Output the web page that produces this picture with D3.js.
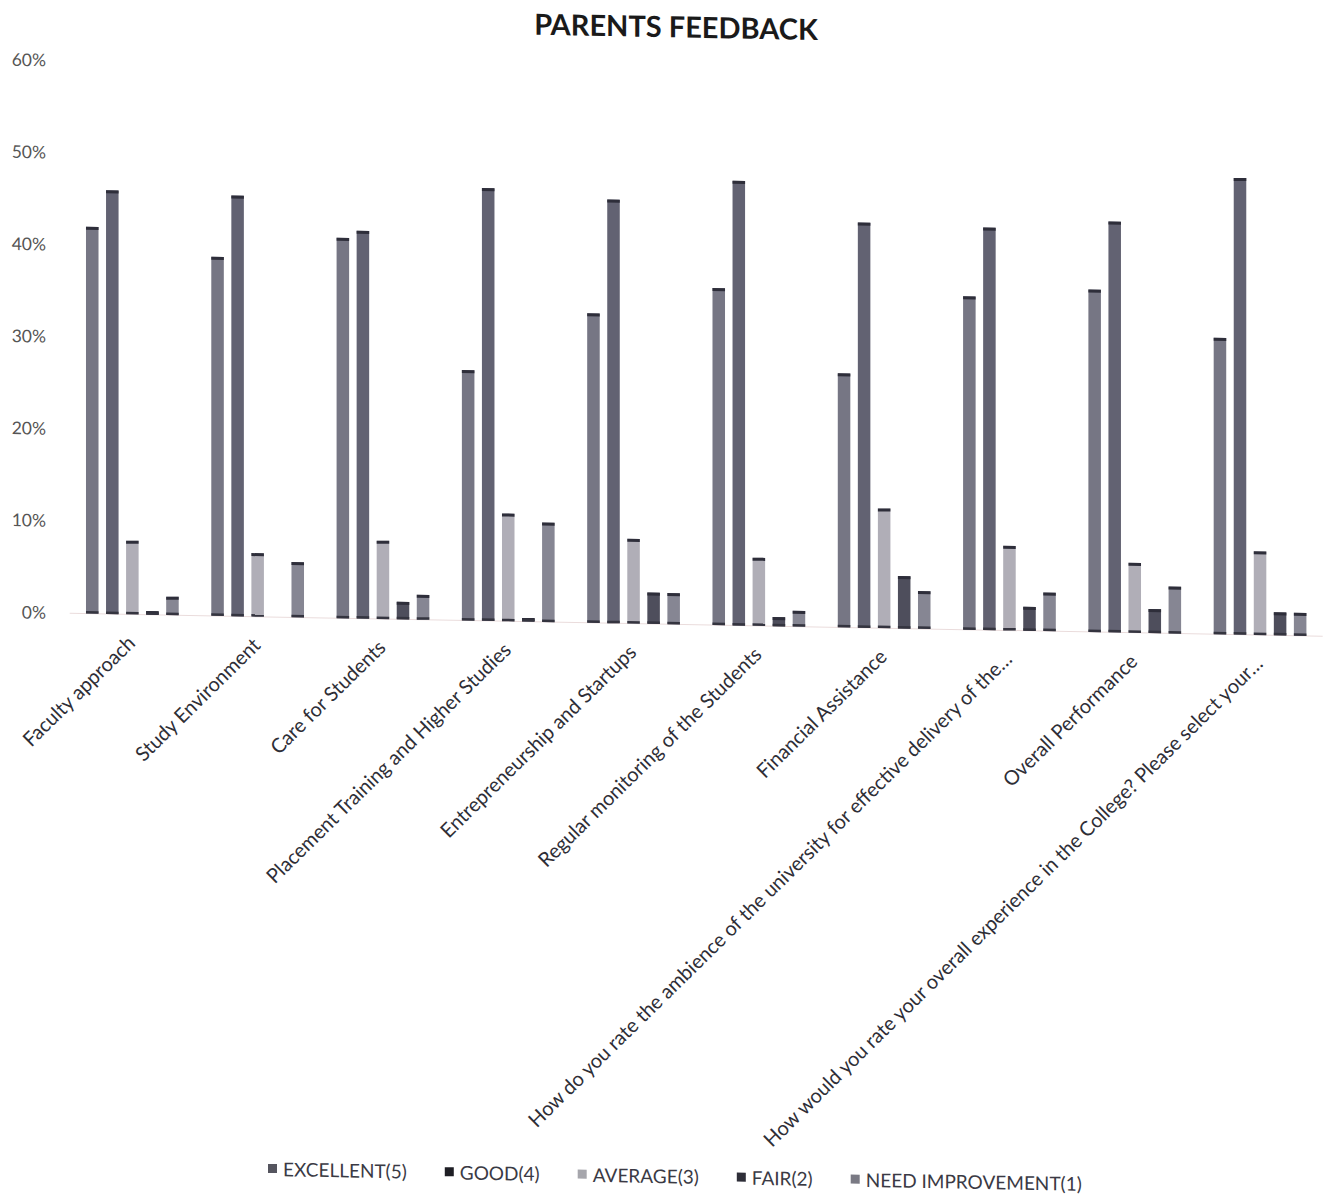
<!DOCTYPE html>
<html lang="en">
<head>
  <meta charset="UTF-8" />
  <title>Parents Feedback</title>
  <script src="https://d3js.org/d3.v7.min.js"></script>
  <style>
    body {
      margin: 0;
      background: #fff;
      font-family: Lato, "Open Sans", sans-serif;
    }
    .tick-label {
      font-size: 17.5px;
      fill: #555;
    }
    .cat-label {
      font-size: 20px;
      fill: #2e2e36;
    }
    .legend text {
      font-size: 19px;
      fill: #3a3a44;
    }
  </style>
</head>
<body>
  <div id="chart"></div>
  <script>
    const categories = [
      "Faculty approach",
      "Study Environment",
      "Care for Students",
      "Placement Training and Higher Studies",
      "Entrepreneurship and Startups",
      "Regular monitoring of the Students",
      "Financial Assistance",
      "How do you rate the ambience of the university for effective delivery of the…",
      "Overall Performance",
      "How would you rate your overall experience in the College? Please select your…"
    ];
    const seriesNames = ["EXCELLENT(5)", "GOOD(4)", "AVERAGE(3)", "FAIR(2)", "NEED IMPROVEMENT(1)"];
    const excellent = [42, 39, 41.3, 27.2, 33.6, 36.6, 27.6, 36.2, 37.2, 32.2];
    const good = [46, 45.7, 42.1, 47, 46, 48.3, 44, 43.7, 44.6, 49.6];
    const average = [8, 6.9, 8.5, 11.7, 9.2, 7.4, 13, 9.2, 7.6, 9.1];
    const fair = [0.4, 0, 1.9, 0.4, 3.4, 1, 5.7, 2.6, 2.6, 2.5];
    const needImprovement = [2, 6, 2.7, 10.8, 3.4, 1.7, 4.1, 4.2, 5.1, 2.5];
    const yTicks = [0, 10, 20, 30, 40, 50, 60];

    const seriesValues = [excellent, good, average, fair, needImprovement];
    const fills = ["#767684", "#626272", "#b0aeb7", "#4e4e5c", "#868693"];
    const legendFills = ["#55555f", "#1e1e24", "#a6a6ac", "#2e2e38", "#7a7a84"];

    const width = 1324, height = 1196;
    const svg = d3.select("#chart").append("svg")
      .attr("width", width)
      .attr("height", height);

    // the scan is slightly sheared, baseline drops toward the right
    const root = svg.append("g").attr("transform", "skewY(1.05)");

    const y = d3.scaleLinear().domain([0, 60]).range([612, 59.5]);
    const x0 = d3.scaleBand().domain(categories).range([69.7, 1322.7]).paddingInner(0.2).paddingOuter(0.1);
    const x1 = d3.scaleBand().domain(seriesNames).range([0, x0.bandwidth()]).paddingInner(0.375).paddingOuter(0.1875);

    root.append("text")
      .attr("x", 676)
      .attr("y", 25)
      .attr("text-anchor", "middle")
      .style("font-size", "29px")
      .style("font-weight", "bold")
      .style("fill", "#1a1a1a")
      .text("PARENTS FEEDBACK");

    root.selectAll(".tick-label")
      .data(yTicks)
      .enter()
      .append("text")
      .attr("class", "tick-label")
      .attr("x", 46)
      .attr("y", d => y(d) + 6)
      .attr("text-anchor", "end")
      .text(d => d + "%");

    root.append("line")
      .attr("x1", x0.range()[0])
      .attr("x2", x0.range()[1])
      .attr("y1", y(0))
      .attr("y2", y(0))
      .attr("stroke", "#eadcdc")
      .attr("stroke-width", 1);

    const rows = [];
    categories.forEach((c, i) => {
      seriesNames.forEach((s, j) => {
        rows.push({ cat: c, series: s, idx: j, value: seriesValues[j][i] });
      });
    });
    const shown = rows.filter(d => d.value > 0);

    root.selectAll("rect.bar")
      .data(shown)
      .enter()
      .append("rect")
      .attr("class", "bar")
      .attr("x", d => x0(d.cat) + x1(d.series))
      .attr("y", d => y(d.value))
      .attr("width", x1.bandwidth())
      .attr("height", d => y(0) - y(d.value))
      .attr("fill", d => fills[d.idx]);

    // darker rims that the print left at the top and bottom of each bar
    root.selectAll("rect.cap")
      .data(shown)
      .enter()
      .append("rect")
      .attr("class", "cap")
      .attr("x", d => x0(d.cat) + x1(d.series))
      .attr("y", d => y(d.value))
      .attr("width", x1.bandwidth())
      .attr("height", d => Math.min(3, y(0) - y(d.value)))
      .attr("fill", "#2e2e3a");

    root.selectAll("rect.foot")
      .data(shown)
      .enter()
      .append("rect")
      .attr("class", "foot")
      .attr("x", d => x0(d.cat) + x1(d.series))
      .attr("y", y(0) - 2.5)
      .attr("width", x1.bandwidth())
      .attr("height", 2.5)
      .attr("fill", "#34343f");

    root.selectAll(".cat-label")
      .data(categories)
      .enter()
      .append("text")
      .attr("class", "cat-label")
      .attr("text-anchor", "end")
      .attr("transform", d => `translate(${x0(d) + x0.bandwidth() / 2 + 4},${y(0) + 30}) rotate(-45)`)
      .text(d => d);

    const legend = root.append("g").attr("class", "legend").attr("transform", "translate(268,1164)");
    let lx = 0;
    seriesNames.forEach((s, j) => {
      const item = legend.append("g").attr("transform", `translate(${lx},0)`);
      item.append("rect")
        .attr("x", 0)
        .attr("y", -5)
        .attr("width", 9)
        .attr("height", 9)
        .attr("fill", legendFills[j]);
      const t = item.append("text")
        .attr("x", 15)
        .attr("y", 7)
        .text(s);
      lx += 15 + t.node().getComputedTextLength() + 38;
    });
  </script>
</body>
</html>
